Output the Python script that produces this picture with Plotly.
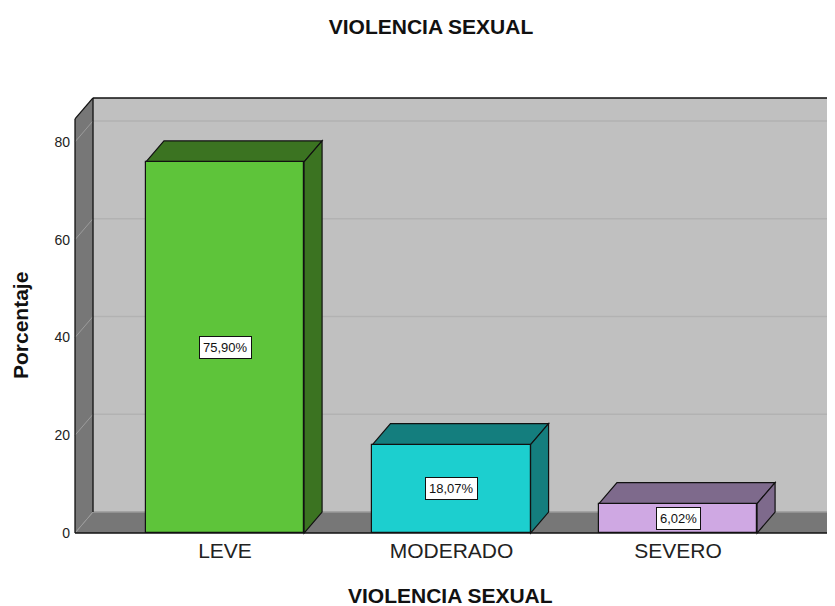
import plotly.graph_objects as go

# ---- data ----
categories = ["LEVE", "MODERADO", "SEVERO"]
values = [75.90, 18.07, 6.02]
front_colors = ["#5ec43a", "#1ccfcf", "#cfa8e3"]
dark_colors = ["#3b7321", "#147e7e", "#7e6a8c"]
y_ticks = [0, 20, 40, 60, 80]

# ---- geometry (data units) ----
half_w = 0.349          # half bar width
dx, dy = 0.0795, 4.3    # depth offset
x_left, x_right = -0.6623, 2.671
wall_top = 84.7

pos = list(range(len(categories)))
FONT = "Liberation Sans, Arial"

fig = go.Figure()
fig.add_trace(go.Bar(
    x=pos, y=values, width=2 * half_w,
    marker=dict(color=front_colors, line=dict(color="#111111", width=1.2)),
    hoverinfo="skip", showlegend=False,
))

shapes = []
def poly(pts, fill, line="#111111", width=1.0, layer="below"):
    path = "M " + " L ".join(f"{x},{y}" for x, y in pts) + " Z"
    shapes.append(dict(type="path", path=path, xref="x", yref="y",
                       fillcolor=fill, line=dict(color=line, width=width), layer=layer))

def seg(x0, y0, x1, y1, color, width=1.0):
    shapes.append(dict(type="line", x0=x0, y0=y0, x1=x1, y1=y1, xref="x", yref="y",
                       line=dict(color=color, width=width), layer="below"))

# back wall
poly([(x_left + dx, dy), (x_right + dx + 0.2, dy), (x_right + dx + 0.2, wall_top + dy),
      (x_left + dx, wall_top + dy)], "#c0c0c0", line="rgba(0,0,0,0)", width=0)
# floor
poly([(x_left, 0), (x_right, 0), (x_right + dx, dy), (x_left + dx, dy)], "#777777",
     line="rgba(0,0,0,0)", width=0)
# left wall
poly([(x_left, 0), (x_left, wall_top), (x_left + dx, wall_top + dy), (x_left + dx, dy)],
     "#777777", line="rgba(0,0,0,0)", width=0)

# gridlines
for v in y_ticks:
    if v == 0:
        seg(x_left + dx, dy, x_right + dx + 0.2, dy, "#9a9a9a", 1.5)
    else:
        seg(x_left + dx, v + dy, x_right + dx + 0.2, v + dy, "#b2b2b2", 1.5)
    seg(x_left, v, x_left + dx, v + dy, "#9c9c9c", 1.0)

# frame edges
seg(x_left, 0, x_left, wall_top, "#111111", 1.3)
seg(x_left, wall_top, x_left + dx, wall_top + dy, "#111111", 1.3)
seg(x_left + dx, dy, x_left + dx, wall_top + dy, "#111111", 1.3)
seg(x_left + dx, wall_top + dy, x_right + dx + 0.2, wall_top + dy, "#111111", 1.5)
seg(x_left, 0, x_right, 0, "#111111", 1.5)
seg(x_right, 0, x_right + dx, dy, "#111111", 1.0)

# bar top and side faces
for p, v, dc in zip(pos, values, dark_colors):
    l, r = p - half_w, p + half_w
    poly([(l, v), (r, v), (r + dx, v + dy), (l + dx, v + dy)], dc, width=1.2)
    poly([(r, 0), (r + dx, dy), (r + dx, v + dy), (r, v)], dc, width=1.2)

# value labels
annotations = []
for p, v in zip(pos, values):
    annotations.append(dict(
        x=p, y=v / 2, xref="x", yref="y",
        text=f"{v:.2f}".replace(".", ",") + "%", showarrow=False,
        font=dict(family=FONT, size=13, color="#111111"),
        bgcolor="white", bordercolor="#111111", borderwidth=1, borderpad=3,
    ))

W, H = 827, 598
PW = W - 63  # plot width in px
annotations.append(dict(
    text="Porcentaje", textangle=-90, showarrow=False,
    x=(20 - 71) / PW, y=0.475, xref="paper", yref="paper", xanchor="center", yanchor="middle",
    font=dict(family=FONT, size=21, color="#111111", weight="bold"),
))
annotations.append(dict(
    text="VIOLENCIA SEXUAL", showarrow=False,
    x=(450 - 71) / PW, y=-0.1357, xref="paper", yref="paper", xanchor="center", yanchor="middle",
    font=dict(family=FONT, size=21, color="#111111", weight="bold"),
))

fig.update_layout(
    width=W, height=H,
    margin=dict(l=63, r=0, t=86, b=70),
    paper_bgcolor="white", plot_bgcolor="white",
    title=dict(text="VIOLENCIA SEXUAL", x=(431 - 71) / PW, xref="paper", xanchor="center",
               y=(H - 19) / H, yref="container", yanchor="middle",
               font=dict(family=FONT, size=21, color="#111111", weight="bold")),
    shapes=shapes, annotations=annotations,
    showlegend=False, bargap=0,
)
fig.update_xaxes(range=[-0.680, -0.680 + PW / 226.5], tickvals=pos, ticktext=categories,
                 showgrid=False, zeroline=False, showline=False, ticks="",
                 tickfont=dict(family=FONT, size=21, color="#222222"))
fig.update_yaxes(range=[-0.6, 89.8], tickvals=y_ticks,
                 showgrid=False, zeroline=False, showline=False,
                 ticks="", tickfont=dict(family=FONT, size=14, color="#222222"))

fig.write_html("out.html")
